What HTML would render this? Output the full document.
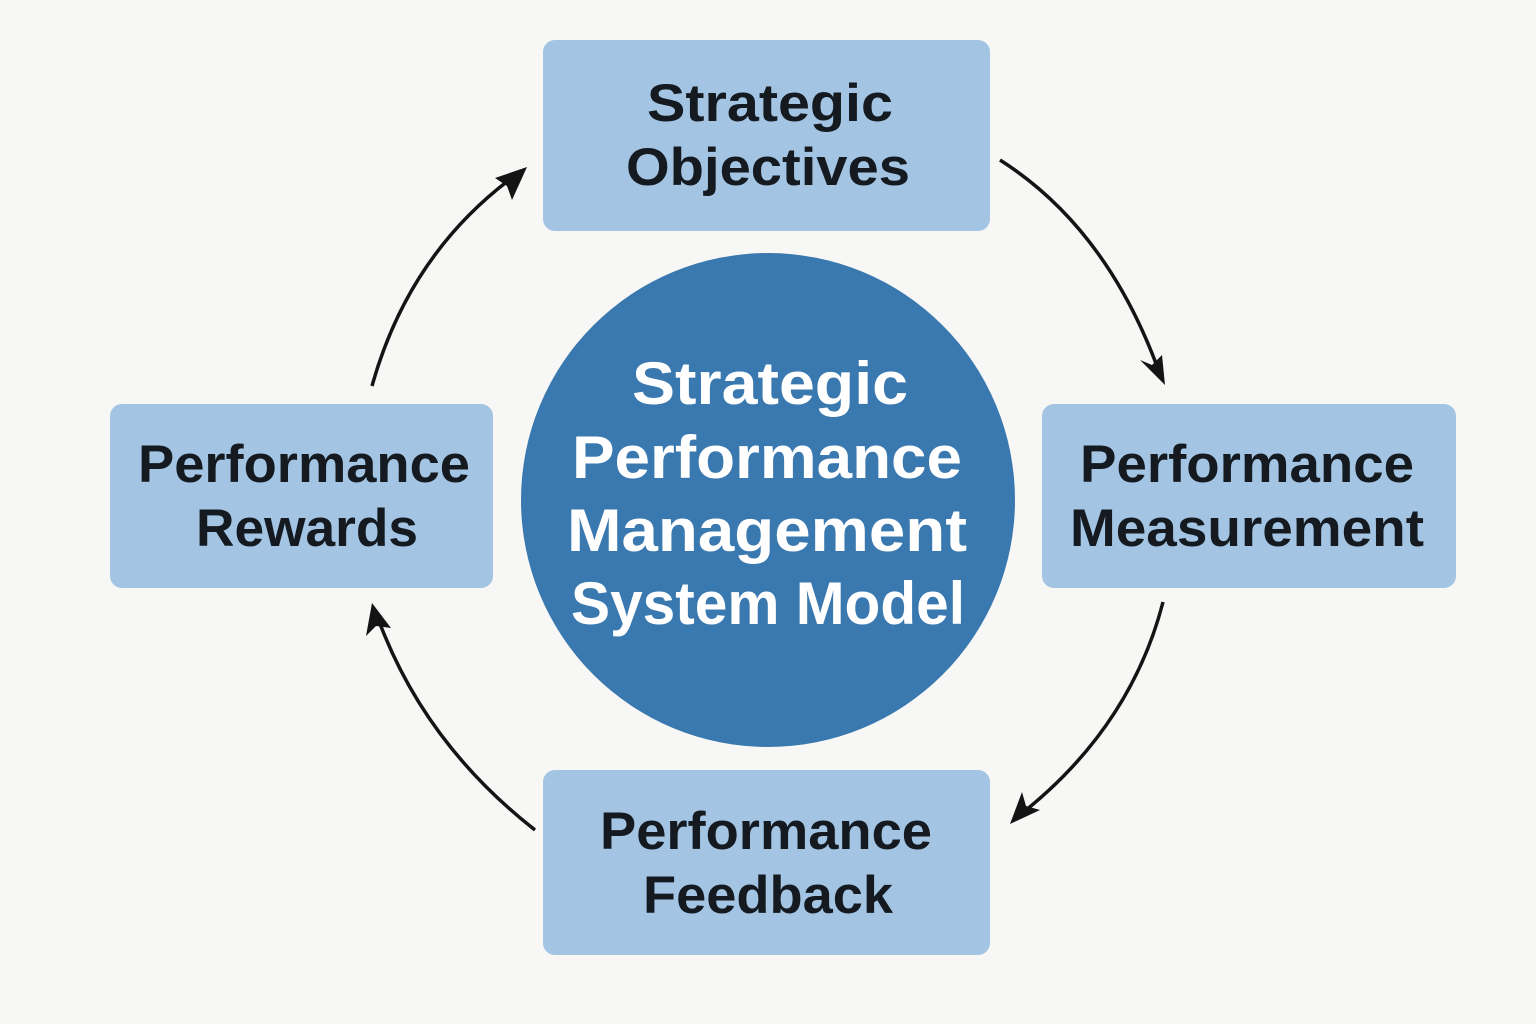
<!DOCTYPE html>
<html><head><style>
body{margin:0;background:#f7f7f5;}
svg{display:block}
.b{font-family:"Liberation Sans",sans-serif;font-weight:bold;font-size:53px;fill:#141a20;text-anchor:middle}
.c{font-family:"Liberation Sans",sans-serif;font-weight:bold;font-size:60px;fill:#fff;text-anchor:middle}
</style></head><body>
<svg width="1536" height="1024" viewBox="0 0 1536 1024" xmlns="http://www.w3.org/2000/svg">
<rect x="543" y="40" width="447" height="191" rx="12" fill="#a3c5e3"/>
<rect x="110" y="404" width="383" height="184" rx="12" fill="#a3c5e3"/>
<rect x="1042" y="404" width="414" height="184" rx="12" fill="#a3c5e3"/>
<rect x="543" y="770" width="447" height="185" rx="12" fill="#a3c5e3"/>
<circle cx="768" cy="500" r="247" fill="#3a78b0"/>
<g fill="none" stroke="#141414" stroke-width="3.5">
<path d="M372,386 Q410,250 520,172"/>
<path d="M1000,160 Q1110,230 1162,380"/>
<path d="M1163,602 Q1130,730 1016,818"/>
<path d="M535,830 Q420,740 375,610"/>
</g>
<g fill="#141414">
<path d="M527,167 L495,178 L507,186 L512,200 Z"/>
<path d="M1165,385 L1140,360 L1152,365 L1162,355 Z"/>
<path d="M1010,824 L1022,792 L1026,806 L1040,810 Z"/>
<path d="M372,603 L366,636 L376,626 L391,628 Z"/>
</g>
<text class="b" x="770" y="121" textLength="246" lengthAdjust="spacingAndGlyphs">Strategic</text>
<text class="b" x="768" y="185" textLength="284" lengthAdjust="spacingAndGlyphs">Objectives</text>
<text class="b" x="304" y="482" textLength="332" lengthAdjust="spacingAndGlyphs">Performance</text>
<text class="b" x="307" y="546" textLength="222" lengthAdjust="spacingAndGlyphs">Rewards</text>
<text class="b" x="1247" y="482" textLength="334" lengthAdjust="spacingAndGlyphs">Performance</text>
<text class="b" x="1247" y="546" textLength="354" lengthAdjust="spacingAndGlyphs">Measurement</text>
<text class="b" x="766" y="849" textLength="332" lengthAdjust="spacingAndGlyphs">Performance</text>
<text class="b" x="768" y="913" textLength="250" lengthAdjust="spacingAndGlyphs">Feedback</text>
<text class="c" x="770" y="404" textLength="276" lengthAdjust="spacingAndGlyphs">Strategic</text>
<text class="c" x="767" y="478" textLength="390" lengthAdjust="spacingAndGlyphs">Performance</text>
<text class="c" x="767" y="551" textLength="400" lengthAdjust="spacingAndGlyphs">Management</text>
<text class="c" x="768" y="624" textLength="394" lengthAdjust="spacingAndGlyphs">System Model</text>
</svg>
</body></html>
